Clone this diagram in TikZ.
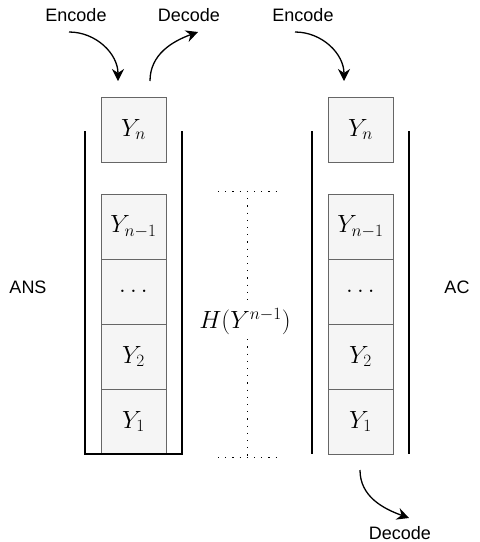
\documentclass[tikz,border=0pt]{standalone}
\usepackage{fontspec}
\setsansfont{Liberation Sans}
\usetikzlibrary{arrows.meta}
\begin{document}
\begin{tikzpicture}[x=1pt,y=-1pt,
  cell/.style={draw=black!60,fill=black!4,line width=1pt,minimum width=65pt,minimum height=65pt,inner sep=0pt,font=\fontsize{25}{30}\selectfont},
  wall/.style={line width=1.2pt},
  lbl/.style={font=\sffamily\fontsize{18}{22}\selectfont,inner sep=1pt},
  carrow/.style={line width=1.3pt,-{Stealth[length=12pt,width=12pt,inset=4pt]}},
  dots/.style={line width=1pt,dash pattern=on 1.2pt off 6pt}]
\useasboundingbox (0,0) rectangle (480,542);
% left stack (ANS)
\node[cell] (lYn) at (133.5,129.5) {$Y_n$};
\node[cell] (lYn1) at (133.5,226.5) {$Y_{n-1}$};
\node[cell] (ldots) at (133.5,291.5) {$\dots$};
\node[cell] (lY2) at (133.5,356.5) {$Y_2$};
\node[cell] (lY1) at (133.5,421.5) {$Y_1$};
\draw[wall] (85,131) -- (85,454) -- (182,454) -- (182,131);
% right stack (AC)
\node[cell] (rYn) at (360.5,129.5) {$Y_n$};
\node[cell] (rYn1) at (360.5,226.5) {$Y_{n-1}$};
\node[cell] (rdots) at (360.5,291.5) {$\dots$};
\node[cell] (rY2) at (360.5,356.5) {$Y_2$};
\node[cell] (rY1) at (360.5,421.5) {$Y_1$};
\draw[wall] (312,131) -- (312,454);
\draw[wall] (409,131) -- (409,454);
% side labels
\node[lbl] (ans) at (28,287) {ANS};
\node[lbl] (ac) at (457,287) {AC};
% entropy marker
\coordinate (tl) at (218,191);
\coordinate (tr) at (278,191);
\coordinate (tm) at (247,191);
\coordinate (bl) at (218,457);
\coordinate (br) at (278,457);
\coordinate (bm) at (247,457);
\node[font=\fontsize{25}{30}\selectfont,inner sep=0pt,minimum height=34pt] (H) at (245,322) {$H(Y^{n-1})$};
\draw[dots] (tl) -- (tr);
\draw[dots] (bl) -- (br);
\draw[dots] (tm) -- (tm |- H.north);
\draw[dots] (bm |- H.south) -- (bm);
% arrows
\node[lbl] (enc1) at (76,15) {Encode};
\node[lbl] (dec1) at (189,15) {Decode};
\node[lbl] (enc2) at (303,15) {Encode};
\node[lbl] (dec2) at (400,533) {Decode};
\coordinate (e1s) at (69,32);
\coordinate (e1e) at (118,81);
\coordinate (d1s) at (150,81);
\coordinate (d1e) at (198,32);
\coordinate (e2s) at (295,32);
\coordinate (e2e) at (344,81);
\coordinate (d2s) at (360,470);
\coordinate (d2e) at (409,518);
\draw[carrow] (e1s) to[out=0,in=90] (e1e);
\draw[carrow] (d1s) to[out=90,in=200] (d1e);
\draw[carrow] (e2s) to[out=0,in=90] (e2e);
\draw[carrow] (d2s) to[out=270,in=160] (d2e);
\end{tikzpicture}
\end{document}
